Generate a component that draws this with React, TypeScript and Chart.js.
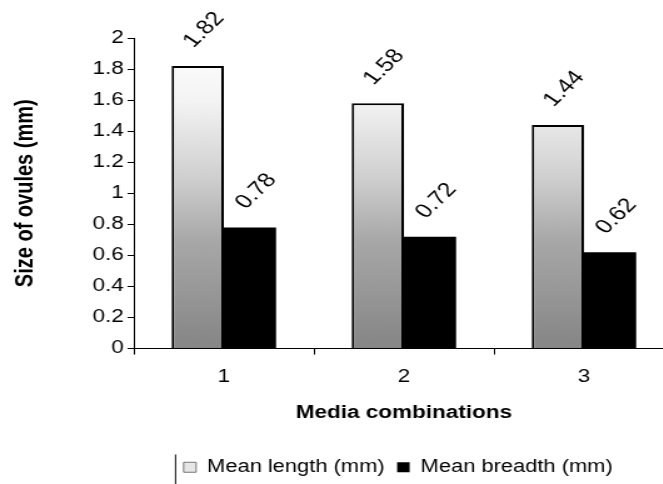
import React, { useEffect, useRef } from "react";
import { Chart, registerables } from "chart.js";

Chart.register(...registerables);

const categories = ["1", "2", "3"];
const meanLength = [1.82, 1.58, 1.44];
const meanBreadth = [0.78, 0.72, 0.62];
const seriesNames = ["Mean length (mm)", "Mean breadth (mm)"];
const yMin = 0;
const yMax = 2;
const yStep = 0.2;
const yTitle = "Size of ovules (mm)";
const xTitle = "Media combinations";

const FONT = "'Liberation Sans', Arial, sans-serif";
// the reference figure is a horizontally stretched scan; draw narrower and stretch
const STRETCH = 1.25;
const OUT_W = 663;
const OUT_H = 484;
// the x axis of the reference runs on past the right edge of the picture
const CANVAS_W = 539;

const valueLabels = {
  id: "valueLabels",
  afterLayout(chart: any) {
    const lg = chart.legend;
    if (lg) lg.right = chart.width - 39;
  },
  afterDatasetsDraw(chart: any) {
    const ctx = chart.ctx;
    ctx.save();
    ctx.font = `20px ${FONT}`;
    ctx.fillStyle = "#000";
    ctx.textAlign = "center";
    ctx.textBaseline = "middle";
    chart.data.datasets.forEach((ds: any, di: number) => {
      const meta = chart.getDatasetMeta(di);
      meta.data.forEach((bar: any, i: number) => {
        const v = ds.data[i];
        ctx.save();
        ctx.translate(bar.x + 5, bar.y - 36);
        ctx.rotate((-50 * Math.PI) / 180);
        ctx.fillText(String(v), 0, 0);
        ctx.restore();
      });
    });
    ctx.restore();
  },
  afterDraw(chart: any) {
    // partial legend frame line on the left
    const lg = chart.legend;
    if (lg && lg.legendHitBoxes && lg.legendHitBoxes.length) {
      const ctx = chart.ctx;
      const hb = lg.legendHitBoxes[0];
      ctx.save();
      ctx.strokeStyle = "#000";
      ctx.lineWidth = 1;
      ctx.beginPath();
      ctx.moveTo(hb.left - 6.5, lg.top + 6);
      ctx.lineTo(hb.left - 6.5, chart.height);
      ctx.stroke();
      ctx.restore();
    }
  },
};

function lengthFill(context: any) {
  const chart = context.chart;
  const area = chart.chartArea;
  if (!area) return "#cccccc";
  const g = chart.ctx.createLinearGradient(0, area.top, 0, area.bottom);
  g.addColorStop(0, "#ffffff");
  g.addColorStop(0.2, "#f4f4f4");
  g.addColorStop(0.45, "#cfcfcf");
  g.addColorStop(0.65, "#a8a8a8");
  g.addColorStop(1, "#858585");
  return g;
}

export default function App() {
  const ref = useRef<HTMLCanvasElement | null>(null);

  useEffect(() => {
    document.body.style.margin = "0";
    const canvas = ref.current;
    if (!canvas) return;
    const chart = new Chart(canvas, {
      type: "bar",
      data: {
        labels: categories,
        datasets: [
          {
            label: seriesNames[0],
            data: meanLength,
            backgroundColor: lengthFill,
            borderColor: "#000",
            borderWidth: 2,
            borderSkipped: "bottom",
            categoryPercentage: 0.58,
            barPercentage: 1,
          },
          {
            label: seriesNames[1],
            data: meanBreadth,
            backgroundColor: "#000",
            borderColor: "#000",
            borderWidth: 0,
            categoryPercentage: 0.58,
            barPercentage: 1,
          },
        ],
      },
      options: {
        animation: false,
        responsive: false,
        maintainAspectRatio: false,
        devicePixelRatio: 1,
        layout: { padding: { top: 38, right: 0, bottom: -2, left: 0 } },
        plugins: {
          tooltip: { enabled: false },
          legend: {
            position: "bottom",
            align: "end",
            labels: {
              color: "#000",
              font: { family: FONT, size: 17.5 },
              boxWidth: 10,
              boxHeight: 10,
              padding: 10,
              generateLabels: () => [
                {
                  text: seriesNames[0],
                  fillStyle: "#e6e6e6",
                  strokeStyle: "#777",
                  lineWidth: 1,
                  datasetIndex: 0,
                  hidden: false,
                  fontColor: "#000",
                },
                {
                  text: seriesNames[1],
                  fillStyle: "#000",
                  strokeStyle: "#000",
                  lineWidth: 0,
                  datasetIndex: 1,
                  hidden: false,
                  fontColor: "#000",
                },
              ],
            },
          },
        },
        scales: {
          x: {
            offset: true,
            border: { color: "#000", width: 1 },
            grid: {
              display: true,
              offset: true,
              drawOnChartArea: false,
              drawTicks: true,
              tickLength: 6,
              color: "#000",
            },
            ticks: {
              color: "#000",
              font: { family: FONT, size: 18 },
              padding: 12,
            },
            title: {
              display: true,
              text: xTitle,
              color: "#000",
              font: { family: FONT, size: 18, weight: "bold" },
              padding: { top: 4, bottom: 25 },
            },
            afterFit: (scale: any) => {
              scale.height = 100;
            },
          },
          y: {
            min: yMin,
            max: yMax,
            border: { color: "#000", width: 1 },
            grid: {
              display: true,
              drawOnChartArea: false,
              drawTicks: true,
              tickLength: 5,
              color: "#000",
            },
            ticks: {
              stepSize: yStep,
              color: "#000",
              font: { family: FONT, size: 18 },
              padding: 3,
              callback: (v: any) => String(Math.round(Number(v) * 10) / 10),
            },
            title: {
              display: true,
              text: yTitle,
              color: "#000",
              font: { family: FONT, size: 20, weight: "bold" },
              padding: { top: 8, bottom: 0 },
            },
            afterFit: (scale: any) => {
              scale.width = 107;
            },
          },
        },
      },
      plugins: [valueLabels],
    });
    return () => chart.destroy();
  }, []);

  return (
    <div
      style={{
        position: "absolute",
        left: 0,
        top: 0,
        width: OUT_W,
        height: OUT_H,
        overflow: "hidden",
        background: "#fff",
      }}
    >
      <canvas
        ref={ref}
        width={CANVAS_W}
        height={OUT_H}
        style={{ width: CANVAS_W * STRETCH, height: OUT_H, display: "block" }}
      />
    </div>
  );
}
